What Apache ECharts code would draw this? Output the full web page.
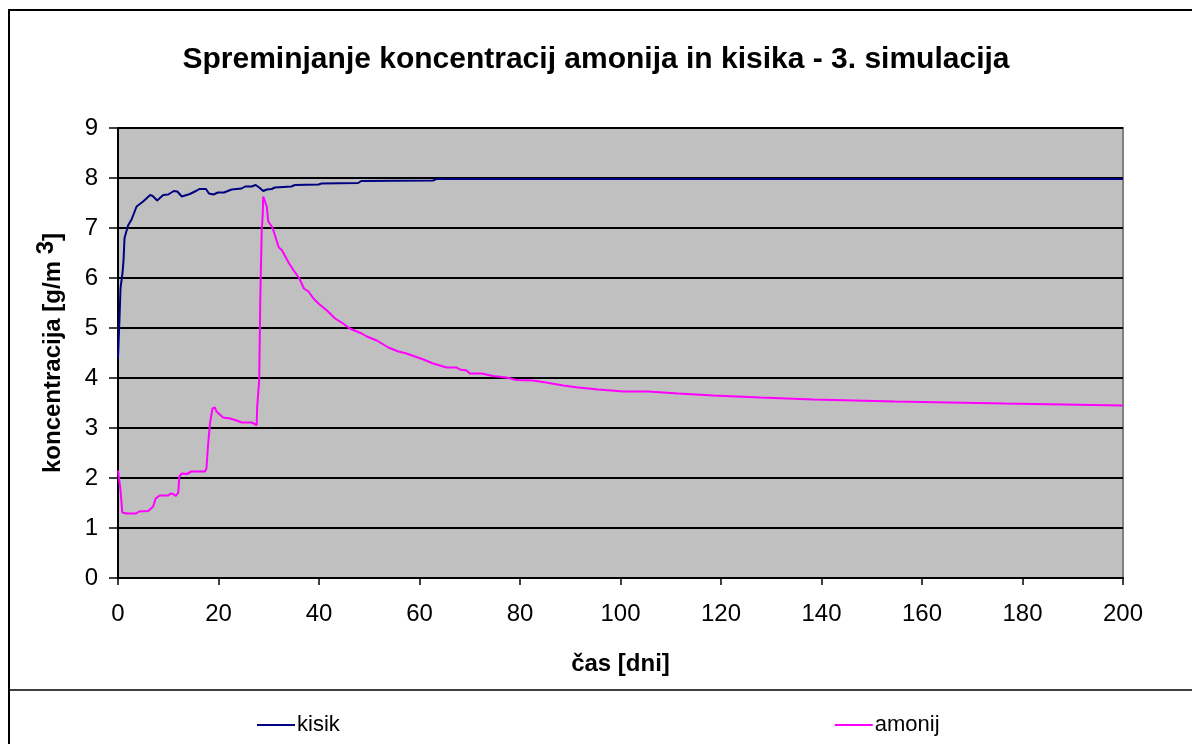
<!DOCTYPE html>
<html>
<head>
<meta charset="utf-8">
<script src="https://cdn.jsdelivr.net/npm/echarts@6/dist/echarts.min.js"></script>
<style>
  html, body { margin: 0; padding: 0; background: #fff; }
  #chart { width: 1192px; height: 744px; }
</style>
</head>
<body>
<div id="chart"></div>
<script>
// Oxygen (kisik) concentration over time: day, g/m3
const kisikDays = [0, 0.3, 0.5, 0.9, 1.1, 1.3, 2.0, 2.7, 3.7, 5.0, 6.4, 6.9, 7.8, 9.0, 10.0, 11.1, 11.8, 12.7, 14.3, 15.7, 16.2, 17.5, 18.1, 19.0, 19.9, 21.1, 22.6, 24.6, 25.3, 26.6, 27.4, 28.1, 28.9, 29.6, 30.6, 31.2, 34.5, 35.2, 39.9, 40.5, 47.8, 48.4, 62.7, 63.3, 200];
const kisikValues = [4.4, 5.2, 5.8, 6.1, 6.35, 6.8, 7.05, 7.17, 7.43, 7.53, 7.66, 7.64, 7.55, 7.66, 7.67, 7.74, 7.73, 7.63, 7.68, 7.75, 7.78, 7.78, 7.69, 7.67, 7.71, 7.71, 7.77, 7.79, 7.83, 7.83, 7.86, 7.81, 7.74, 7.77, 7.78, 7.81, 7.83, 7.86, 7.87, 7.89, 7.90, 7.94, 7.95, 7.98, 7.98];

// Ammonia (amonij) concentration over time: day, g/m3
const amonijDays = [0, 0.5, 0.85, 1.7, 3.6, 4.2, 6.0, 7.0, 7.5, 8.3, 10.0, 10.5, 11.0, 11.5, 12.0, 12.2, 12.7, 13.7, 14.6, 17.3, 17.6, 17.9, 18.3, 18.8, 19.3, 19.6, 20.9, 22.3, 23.6, 24.6, 26.6, 26.9, 27.6, 27.7, 28.1, 28.3, 28.6, 28.8, 28.9, 29.2, 29.6, 29.9, 30.6, 30.9, 32.0, 32.6, 34.0, 34.9, 36.1, 37.0, 37.9, 38.9, 39.9, 41.8, 43.2, 44.8, 46.1, 48.5, 49.5, 51.5, 53.8, 55.8, 57.4, 60.8, 62.7, 65.4, 67.4, 68.0, 69.4, 70.0, 72.4, 72.7, 74.6, 77.3, 79.3, 82.6, 85.2, 88.6, 91.6, 95.6, 100.6, 105.5, 111.5, 118.5, 127.8, 138.4, 154.6, 176.5, 200];
const amonijValues = [2.15, 1.76, 1.31, 1.29, 1.29, 1.33, 1.34, 1.43, 1.59, 1.65, 1.65, 1.69, 1.68, 1.64, 1.71, 2.03, 2.09, 2.08, 2.13, 2.13, 2.19, 2.63, 3.09, 3.39, 3.41, 3.33, 3.21, 3.19, 3.15, 3.11, 3.11, 3.07, 3.06, 3.43, 3.96, 5.5, 6.96, 7.26, 7.63, 7.61, 7.43, 7.13, 7.03, 6.96, 6.61, 6.56, 6.3, 6.16, 5.99, 5.79, 5.73, 5.59, 5.49, 5.33, 5.19, 5.09, 4.99, 4.89, 4.83, 4.75, 4.61, 4.53, 4.49, 4.37, 4.29, 4.21, 4.21, 4.17, 4.15, 4.09, 4.09, 4.06, 4.04, 4.01, 3.96, 3.95, 3.91, 3.85, 3.81, 3.77, 3.73, 3.69, 3.65, 3.61, 3.57, 3.53, 3.49, 3.45, 3.45];

// After this day the ammonia curve holds each level flat until the next point
const amonijStepFrom = 100.6;

const xTicks = [0, 20, 40, 60, 80, 100, 120, 140, 160, 180, 200];
const yTicks = [0, 1, 2, 3, 4, 5, 6, 7, 8, 9];

const titleText = 'Spreminjanje koncentracij amonija in kisika - 3. simulacija';
const xName = 'čas [dni]';
const seriesNames = ['kisik', 'amonij'];

function pairs(days, vals) {
  return days.map((d, i) => [d, vals[i]]);
}

// Build the ammonia line; the long tail is drawn as flat steps
function amonijData() {
  const out = [];
  for (let i = 0; i < amonijDays.length; i++) {
    const d = amonijDays[i], v = amonijValues[i];
    if (i > 0 && amonijDays[i - 1] >= amonijStepFrom) {
      out.push([d, amonijValues[i - 1]]);
    }
    out.push([d, v]);
  }
  return out;
}

const font = '"Liberation Sans", Arial, sans-serif';
const chart = echarts.init(document.getElementById('chart'), null, { renderer: 'canvas' });

chart.setOption({
  backgroundColor: '#ffffff',
  animation: false,
  textStyle: { fontFamily: font, color: '#000' },
  title: {
    text: titleText,
    left: 'center',
    top: 40,
    textStyle: { fontFamily: font, fontSize: 30, fontWeight: 'bold', color: '#000' }
  },
  graphic: [
    { type: 'rect', silent: true, shape: { x: 9, y: 10, width: 1200, height: 800 },
      style: { fill: null, stroke: '#000', lineWidth: 2 } },
    { type: 'line', silent: true, shape: { x1: 8, y1: 690, x2: 1192, y2: 690 },
      style: { stroke: '#000', lineWidth: 1.5 } }
  ],
  legend: {
    data: seriesNames,
    left: 252,
    top: 709,
    itemGap: 495,
    itemWidth: 38,
    itemHeight: 2,
    icon: 'rect',
    textStyle: { fontFamily: font, fontSize: 22, color: '#000', padding: [0, 0, 0, -3] }
  },
  grid: {
    left: 118, top: 128, right: 69, bottom: 166,
    show: true,
    backgroundColor: '#c0c0c0',
    borderColor: '#808080',
    borderWidth: 2
  },
  xAxis: {
    type: 'value',
    min: xTicks[0], max: xTicks[xTicks.length - 1], interval: 20,
    name: xName,
    nameLocation: 'middle',
    nameGap: 74,
    nameTextStyle: { fontFamily: font, fontSize: 24, fontWeight: 'bold', color: '#000' },
    axisLine: { show: true, lineStyle: { color: '#000', width: 2 } },
    axisTick: { show: true, inside: false, length: 7, lineStyle: { color: '#000', width: 1.5 } },
    axisLabel: { fontFamily: font, fontSize: 24, color: '#000', margin: 24 },
    splitLine: { show: false }
  },
  yAxis: {
    type: 'value',
    min: yTicks[0], max: yTicks[yTicks.length - 1], interval: 1,
    name: 'koncentracija [g/m {s|3}]',
    nameLocation: 'middle',
    nameGap: 46,
    nameRotate: 90,
    nameTextStyle: {
      fontFamily: font, fontSize: 24, fontWeight: 'bold', color: '#000',
      rich: {
        s: { fontFamily: font, fontSize: 24, fontWeight: 'bold', color: '#000', padding: [0, 0, 14, 0] }
      }
    },
    axisLine: { show: true, lineStyle: { color: '#000', width: 2 } },
    axisTick: { show: true, inside: false, length: 9, lineStyle: { color: '#000', width: 1.5 } },
    axisLabel: { fontFamily: font, fontSize: 24, color: '#000', margin: 20 },
    splitLine: { show: true, lineStyle: { color: '#000', width: 2 } }
  },
  series: [
    {
      name: seriesNames[0], type: 'line', showSymbol: false, symbol: 'none',
      data: pairs(kisikDays, kisikValues),
      lineStyle: { color: '#000080', width: 2 },
      itemStyle: { color: '#000080' },
      z: 3
    },
    {
      name: seriesNames[1], type: 'line', showSymbol: false, symbol: 'none',
      data: amonijData(),
      lineStyle: { color: '#ff00ff', width: 2 },
      itemStyle: { color: '#ff00ff' },
      z: 3
    }
  ]
});
</script>
</body>
</html>
